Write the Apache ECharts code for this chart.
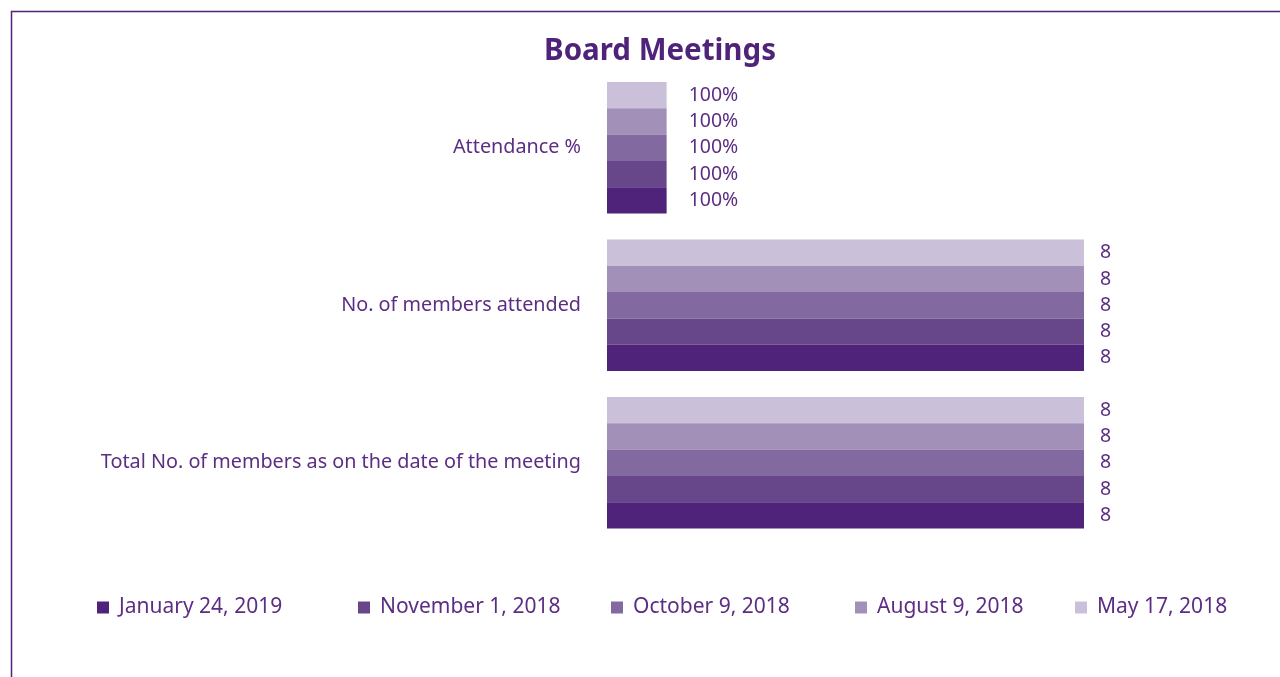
<!DOCTYPE html>
<html>
<head>
<meta charset="utf-8">
<script src="https://cdn.jsdelivr.net/npm/echarts@6/dist/echarts.min.js"></script>
<style>
html,body{margin:0;padding:0;background:#fff;}
#chart{width:1280px;height:677px;}
</style>
</head>
<body>
<div id="chart"></div>
<script>
// Categories listed bottom to top
const categories = ['Total No. of members as on the date of the meeting', 'No. of members attended', 'Attendance %'];
const meetingDates = ['January 24, 2019', 'November 1, 2018', 'October 9, 2018', 'August 9, 2018', 'May 17, 2018'];
// values per meeting: [total members, members attended, attendance fraction]
const jan24_2019 = [8, 8, 1];
const nov1_2018 = [8, 8, 1];
const oct9_2018 = [8, 8, 1];
const aug9_2018 = [8, 8, 1];
const may17_2018 = [8, 8, 1];
const seriesValues = [jan24_2019, nov1_2018, oct9_2018, aug9_2018, may17_2018];
const colors = ['#4f2379', '#67478a', '#8269a0', '#a290b9', '#cbc0d9'];

const FONT = 'Noto Sans';
const TXT = '#5b2e83';

const legendPos = [92, 353, 606, 850, 1070];

const chart = echarts.init(document.getElementById('chart'));
chart.setOption({
  animation: false,
  textStyle: {fontFamily: FONT},
  graphic: [
    {type: 'rect', shape: {x: 11.5, y: 11.5, width: 1400, height: 800},
     style: {fill: 'none', stroke: '#4f2379', lineWidth: 1.5}, silent: true},
    {type: 'text', x: 660, y: 52,
     style: {text: 'Board Meetings', fontFamily: FONT, fontWeight: 'bold', fontSize: 29.5,
             fill: '#4f2379', textAlign: 'center', textVerticalAlign: 'middle'}}
  ],
  legend: meetingDates.map((d, i) => ({
    data: [d], left: legendPos[i], top: 592, itemWidth: 12, itemHeight: 12, itemGap: 10,
    icon: 'rect', textStyle: {fontFamily: FONT, fontSize: 21, color: TXT, padding: [0, 0, 0, 5]}
  })),
  grid: {left: 607, right: 196, top: 69, height: 472.5, containLabel: false},
  xAxis: {type: 'value', min: 0, max: 8, show: false},
  yAxis: {
    type: 'category', data: categories,
    axisLine: {show: false}, axisTick: {show: false},
    axisLabel: {fontFamily: FONT, fontSize: 19.8, color: TXT, margin: 26}
  },
  // reversed so the first meeting sits at the bottom of each group
  series: meetingDates.map((d, i) => ({
    name: d, type: 'bar',
    data: seriesValues[i].map((v, j) => ({value: v, label: {distance: j === 2 ? 22 : 16}})),
    barGap: '0%', barCategoryGap: '16.5%',
    itemStyle: {color: colors[i]},
    label: {
      show: true, position: 'right',
      fontFamily: FONT, fontSize: 19.5, color: TXT,
      formatter: p => p.dataIndex === 2 ? Math.round(p.value * 100) + '%' : String(p.value)
    }
  })).reverse()
});
</script>
</body>
</html>
